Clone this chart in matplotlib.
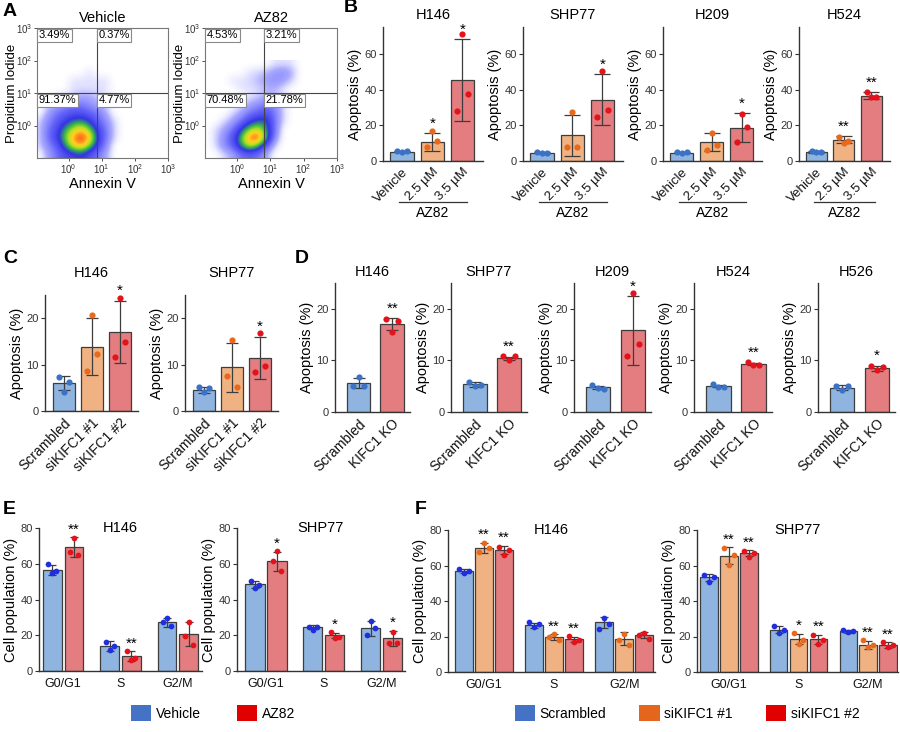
import numpy as np
import matplotlib

matplotlib.use("Agg")
import matplotlib.pyplot as plt
import matplotlib.transforms as mtransforms
from matplotlib.colors import LinearSegmentedColormap
from matplotlib.patches import Patch

plt.rcParams["font.family"] = ["Liberation Sans", "DejaVu Sans"]
plt.rcParams["mathtext.fontset"] = "custom"
plt.rcParams["mathtext.rm"] = "Liberation Sans"
plt.rcParams["mathtext.it"] = "Liberation Sans:italic"
plt.rcParams["mathtext.bf"] = "Liberation Sans:bold"

W, H = 900, 732

# ---------------- A: annexin V / PI dot plots (density, log10 grid) ----------------
flow_titles = ["Vehicle", "AZ82"]
flow_pct = [
    ["3.49%", "0.37%", "91.37%", "4.77%"],
    ["4.53%", "3.21%", "70.48%", "21.78%"],
]
# rows: log10 PI 1.875 -> -0.875, cols: log10 annexin -0.875 -> 1.875 (0.25 steps)
vehicle_density = [
    [0, 0, 0, 0, 0, 0, 0, 0, 0, 0, 0, 0],
    [0, 0, 0, 0, 0, 0, 0.4, 0, 0, 0, 0, 0],
    [0, 0, 0, 0, 0.4, 0.4, 0.4, 0.4, 0.4, 0, 0, 0],
    [0, 0, 0, 0, 0.4, 0.4, 0.4, 0.4, 0.4, 0, 0, 0],
    [0, 0, 0.4, 0.5, 0.6, 1, 1, 0.6, 0.4, 0, 0, 0],
    [0, 0.5, 1, 1.5, 2, 2, 1.5, 1, 0.5, 0, 0, 0],
    [0, 1, 2, 2.5, 3, 3, 2.5, 2, 1, 0, 0, 0],
    [0.5, 1.5, 2.5, 3.5, 4.5, 5, 4, 2.5, 1.5, 0.5, 0, 0],
    [0.5, 2, 3, 5, 6.5, 7.5, 6, 3.5, 2, 0.5, 0, 0],
    [0.5, 2, 3.5, 5.5, 8, 9.5, 8, 4, 2, 0.5, 0, 0],
    [0.5, 1.5, 2.5, 4.5, 7, 8, 6, 3.5, 1.5, 0, 0, 0],
    [0, 1, 2, 3, 3.5, 4, 3, 2, 1, 0, 0, 0],
]
az82_density = [
    [0, 0, 0, 0, 0, 0, 0, 0, 0.4, 0.4, 0.4, 0],
    [0, 0, 0, 0, 0, 0.4, 0.5, 0.8, 1.2, 1.5, 1, 0],
    [0, 0, 0, 0.4, 0.4, 0.5, 0.8, 1.2, 1.5, 1.2, 0.6, 0],
    [0, 0, 0, 0, 0.4, 0.4, 0.5, 0.8, 0.8, 0.4, 0, 0],
    [0, 0, 0, 0, 0, 0.4, 0.5, 1, 1, 0.4, 0, 0],
    [0, 0, 0, 0, 0.5, 1, 1.5, 2, 1.5, 0.5, 0, 0],
    [0, 0, 0, 0.5, 1, 2, 2.5, 3, 2, 0.5, 0, 0],
    [0, 0, 0.5, 1, 2, 3.5, 4.5, 4.5, 2, 0.5, 0, 0],
    [0, 0.5, 1, 2, 4, 6, 7, 5, 2, 0, 0, 0],
    [0, 0.5, 1.5, 3, 5.5, 8.5, 9.5, 5.5, 1.5, 0, 0, 0],
    [0, 0.5, 1.5, 2.5, 5, 7, 5.5, 2.5, 0.5, 0, 0, 0],
    [0, 0, 0.5, 1, 2, 2.5, 2, 1, 0, 0, 0, 0],
]
flow_gate_x = [0.85, 0.82]   # log10 annexin gate
flow_gate_y = [1.0, 1.0]     # log10 PI gate

# ---------------- B: AZ82 dose, apoptosis (%) ----------------
b_lines = ["H146", "SHP77", "H209", "H524"]
b_groups = ["Vehicle", "2.5 µM", "3.5 µM"]
b_mean = [[5.3, 10.4, 45.4], [4.6, 14.4, 34.4], [4.6, 10.4, 18.6], [5.2, 12.0, 36.6]]
b_sd = [[0.4, 5.0, 22.8], [0.2, 11.6, 14.2], [0.2, 5.0, 8.0], [0.5, 1.8, 1.9]]
b_points = [
    [[5.8, 5.0, 5.6], [8.0, 16.6, 11.4], [28.0, 71.0, 37.6]],
    [[4.8, 4.6, 4.6], [7.6, 27.6, 7.6], [24.4, 50.6, 28.8]],
    [[4.8, 4.6, 4.8], [6.0, 15.6, 9.0], [10.4, 26.4, 19.0]],
    [[5.8, 5.0, 5.0], [13.6, 10.0, 11.0], [38.4, 35.6, 36.0]],
]
b_stars = [["", "*", "*"], ["", "", "*"], ["", "", "*"], ["", "**", "**"]]

# ---------------- C: siRNA, apoptosis (%) ----------------
c_lines = ["H146", "SHP77"]
c_groups = ["Scrambled", "siKIFC1 #1", "siKIFC1 #2"]
c_mean = [[6.0, 13.9, 17.0], [4.5, 9.4, 11.5]]
c_sd = [[1.5, 6.2, 6.7], [0.6, 5.3, 4.5]]
c_points = [
    [[7.3, 4.2, 6.2], [8.6, 20.7, 12.3], [11.7, 24.4, 14.9]],
    [[5.2, 4.0, 4.9], [7.6, 15.3, 5.1], [8.3, 16.8, 9.7]],
]
c_stars = [["", "", "*"], ["", "", "*"]]

# ---------------- D: KIFC1 KO, apoptosis (%) ----------------
d_lines = ["H146", "SHP77", "H209", "H524", "H526"]
d_groups = ["Scrambled", "KIFC1 KO"]
d_mean = [[5.6, 17.0], [5.4, 10.4], [4.8, 15.8], [5.1, 9.3], [4.7, 8.5]]
d_sd = [[1.0, 1.2], [0.5, 0.3], [0.3, 6.6], [0.2, 0.2], [0.5, 0.5]]
d_points = [
    [[5.0, 6.7, 5.0], [18.0, 15.6, 17.6]],
    [[5.9, 5.1, 5.3], [10.8, 10.1, 10.8]],
    [[5.3, 4.6, 4.5], [10.8, 23.1, 13.2]],
    [[5.5, 4.9, 4.9], [9.6, 9.2, 9.2]],
    [[5.1, 4.3, 5.1], [9.0, 8.2, 8.8]],
]
d_stars = [["", "**"], ["", "**"], ["", "*"], ["", "**"], ["", "*"]]

# ---------------- E / F: cell cycle (%) ----------------
phases = ["G0/G1", "S", "G2/M"]
e_series = ["Vehicle", "AZ82"]
e_lines = ["H146", "SHP77"]
e_mean = [
    [[56.6, 14.1, 27.2], [69.3, 8.4, 20.6]],
    [[48.5, 24.4, 23.8], [61.3, 20.0, 18.2]],
]
e_sd = [
    [[2.8, 2.7, 2.5], [5.6, 2.6, 6.6]],
    [[1.9, 1.1, 4.2], [5.4, 1.4, 4.2]],
]
e_points = [
    [[[60.0, 54.7, 55.7], [16.3, 12.0, 14.0], [27.2, 29.4, 25.0]],
     [[66.3, 74.4, 65.0], [11.0, 6.0, 7.0], [19.5, 27.5, 14.4]]],
    [[[50.6, 46.3, 48.2], [24.4, 22.9, 24.4], [20.0, 28.1, 23.8]],
     [[61.3, 66.9, 56.0], [21.6, 18.7, 19.1], [15.7, 21.9, 15.7]]],
]
e_stars = [
    [["", "", ""], ["**", "**", ""]],
    [["", "", ""], ["*", "*", "*"]],
]

f_series = ["Scrambled", "siKIFC1 #1", "siKIFC1 #2"]
f_lines = ["H146", "SHP77"]
f_mean = [
    [[57.0, 26.3, 27.9], [70.0, 19.8, 18.8], [68.7, 18.4, 20.7]],
    [[53.3, 23.9, 23.0], [65.5, 18.8, 15.4], [66.8, 18.4, 15.1]],
]
f_sd = [
    [[1.0, 1.4, 3.1], [2.8, 1.6, 3.6], [2.3, 1.6, 1.7]],
    [[2.0, 2.1, 0.9], [4.7, 2.8, 2.3], [1.7, 2.5, 1.6]],
]
f_points = [
    [[[58.3, 56.0, 57.0], [27.9, 25.4, 26.9], [24.5, 30.7, 27.3]],
     [[67.8, 72.8, 70.0], [19.8, 21.3, 17.9], [17.9, 21.6, 15.1]],
     [[70.2, 65.9, 68.7], [20.1, 16.9, 18.3], [20.7, 22.0, 18.8]]],
    [[[54.6, 50.8, 53.6], [26.0, 22.2, 23.5], [23.5, 22.4, 23.1]],
     [[69.6, 60.2, 65.9], [22.0, 16.0, 17.9], [17.9, 14.1, 15.4]],
     [[68.1, 64.9, 66.8], [20.7, 15.6, 17.9], [16.9, 14.1, 15.1]]],
]
f_stars = [
    [["", "", ""], ["**", "**", ""], ["**", "**", ""]],
    [["", "", ""], ["**", "*", "**"], ["**", "**", "**"]],
]

# ---------------- styles ----------------
EDGE = "#3d3d3d"
AXIS = "#333333"
FILL = {"blue": "#8fb4df", "orange": "#f0b283", "red": "#e47d7f"}
DOT = {"blue": "#3b72c6", "orange": "#e8681c", "red": "#e3121b"}
DOT_EF = {"blue": "#1f2fe0", "orange": "#e8681c", "red": "#e3121b"}
LEGEND = {"blue": "#4472c4", "orange": "#e4661c", "red": "#e00000"}

flow_cmap = LinearSegmentedColormap.from_list(
    "flow",
    [(0, "white"), (0.03, "#ececff"), (0.1, "#a8a8ff"), (0.25, "#6464fa"), (0.42, "#3434e6"),
     (0.55, "#30b050"), (0.68, "#b8e020"), (0.78, "#ffd020"), (0.88, "#ff7a1e"), (1.0, "#e8141e")],
)

fig = plt.figure(figsize=(W / 100, H / 100), dpi=100)


def px_axes(left, top, right, bottom):
    return fig.add_axes([left / W, 1 - bottom / H, (right - left) / W, (bottom - top) / H])


def panel_letter(x, y, s):
    fig.text(x / W, 1 - y / H, s, fontsize=14, fontweight="bold", ha="left", va="center")


def style_bar_axes(ax, ylim, yticks, ylabel):
    ax.set_ylim(*ylim)
    ax.set_yticks(yticks)
    for side in ("top", "right"):
        ax.spines[side].set_visible(False)
    for side in ("left", "bottom"):
        ax.spines[side].set_color(AXIS)
        ax.spines[side].set_linewidth(1.0)
    ax.tick_params(axis="y", length=3, width=0.8, colors=AXIS, labelsize=8, pad=1.5)
    ax.tick_params(axis="x", length=0, colors="#111111")
    ax.set_ylabel(ylabel, fontsize=10.5, labelpad=2)


def draw_bars(ax, xs, means, sds, pts, fills, dots, width, cap, stars, jitter, star_pad, dot_size=20):
    ax.bar(xs, means, width, color=fills, edgecolor=EDGE, linewidth=0.9, zorder=1)
    ax.errorbar(xs, means, yerr=sds, fmt="none", ecolor=EDGE, elinewidth=0.9,
                capsize=cap, capthick=0.9, zorder=2)
    for x, p, c in zip(xs, pts, dots):
        ax.scatter(np.full(len(p), x) + np.array(jitter), p, s=dot_size, color=c,
                   linewidths=0, zorder=3, clip_on=False)
    for x, m, s, st in zip(xs, means, sds, stars):
        if st:
            ax.annotate(st, (x, m + s), xytext=(0, star_pad), textcoords="offset points",
                        ha="center", va="bottom", fontsize=11, annotation_clip=False)


# ---------------- panel A ----------------
flow_boxes = [(37, 28, 168, 158), (205, 28, 337, 158)]
flow_label_right = [18, 186]   # right edge of the rotated y label, px
for i, (dens, box) in enumerate(zip([vehicle_density, az82_density], flow_boxes)):
    ax = px_axes(*box)
    ax.imshow(np.array(dens), extent=(-1, 2, -1, 2), origin="upper", cmap=flow_cmap,
              vmin=0, vmax=9.5, interpolation="bicubic", aspect="auto", zorder=1)
    ax.set_xlim(-0.95, 3)
    ax.set_ylim(-1, 3)
    ax.axvline(flow_gate_x[i], color="#444444", lw=0.8, zorder=2)
    ax.axhline(flow_gate_y[i], color="#444444", lw=0.8, zorder=2)
    ticks = [0, 1, 2, 3]
    labels = [rf"$\mathregular{{10^{{{t}}}}}$" for t in ticks]
    ax.set_xticks(ticks, labels)
    ax.set_yticks(ticks, labels)
    ax.tick_params(length=2, width=0.6, labelsize=7, pad=1, colors="#333333")
    for sp in ax.spines.values():
        sp.set_color("#777777")
        sp.set_linewidth(0.8)
    ax.set_title(flow_titles[i], fontsize=10.5, pad=4)
    ax.set_xlabel("Annexin V", fontsize=10.5, labelpad=1)
    ax.set_ylabel("Propidium Iodide", fontsize=9.5)
    ax.yaxis.set_label_coords((flow_label_right[i] - box[0]) / (box[2] - box[0]), 0.5)
    bbox = dict(boxstyle="square,pad=0.15", fc="white", ec="#8a8a8a", lw=0.8)
    gx, gy = flow_gate_x[i], flow_gate_y[i]
    spots = [(-0.9, 2.93), (gx + 0.05, 2.93), (-0.9, gy - 0.07), (gx + 0.05, gy - 0.07)]
    for (tx, ty), txt in zip(spots, flow_pct[i]):
        ax.text(tx, ty, txt, fontsize=8, ha="left", va="top", bbox=bbox, zorder=4)
panel_letter(3, 11, "A")

# ---------------- panel B ----------------
b_fills = [FILL["blue"], FILL["orange"], FILL["red"]]
b_dots = [DOT["blue"], DOT["orange"], DOT["red"]]
b_boxes = [(383, 27, 483, 161), (523, 27, 623, 161), (663, 27, 762, 161), (799, 27, 890, 161)]
for i, box in enumerate(b_boxes):
    ax = px_axes(*box)
    xs = np.arange(len(b_groups))
    draw_bars(ax, xs, b_mean[i], b_sd[i], b_points[i], b_fills, b_dots, 0.77, 5.5,
              b_stars[i], (-0.17, 0.0, 0.17), 2)
    style_bar_axes(ax, (0, 75), [0, 20, 40, 60], "Apoptosis (%)")
    ax.set_xlim(-0.63, 2.68)
    ax.set_xticks(xs, b_groups, rotation=45, ha="right", rotation_mode="anchor", fontsize=9.5)
    ax.set_title(b_lines[i], fontsize=10.5, pad=6)
    trans = mtransforms.blended_transform_factory(ax.transData, ax.transAxes)
    ax.plot([-0.1, 2.15], [-0.305, -0.305], transform=trans, color=AXIS, lw=0.9, clip_on=False)
    ax.text(1.03, -0.39, "AZ82", transform=trans, ha="center", va="center", fontsize=10)
panel_letter(344, 8, "B")

# ---------------- panel C ----------------
c_boxes = [(45, 295, 138, 411), (185, 295, 278, 411)]
for i, box in enumerate(c_boxes):
    ax = px_axes(*box)
    xs = np.arange(len(c_groups))
    draw_bars(ax, xs, c_mean[i], c_sd[i], c_points[i], b_fills, b_dots, 0.76, 4.5,
              c_stars[i], (-0.17, 0.0, 0.17), 2)
    style_bar_axes(ax, (0, 25), [0, 10, 20], "Apoptosis (%)")
    ax.set_xlim(-0.67, 2.64)
    ax.set_xticks(xs, c_groups, rotation=45, ha="right", rotation_mode="anchor", fontsize=10)
    ax.set_title(c_lines[i], fontsize=10.5, pad=13)
panel_letter(3, 258, "C")

# ---------------- panel D ----------------
d_fills = [FILL["blue"], FILL["red"]]
d_dots = [DOT["blue"], DOT["red"]]
d_boxes = [(335, 283, 410, 412), (451, 283, 527, 412), (574, 283, 651, 412),
           (694, 283, 772, 412), (818, 283, 895, 412)]
for i, box in enumerate(d_boxes):
    ax = px_axes(*box)
    xs = np.arange(len(d_groups))
    draw_bars(ax, xs, d_mean[i], d_sd[i], d_points[i], d_fills, d_dots, 0.7, 4.0,
              d_stars[i], (-0.17, 0.0, 0.17), 2)
    style_bar_axes(ax, (0, 25), [0, 10, 20], "Apoptosis (%)")
    ax.set_xlim(-0.7, 1.53)
    ax.set_xticks(xs, d_groups, rotation=45, ha="right", rotation_mode="anchor", fontsize=10)
    ax.set_title(d_lines[i], fontsize=10.5, pad=5)
panel_letter(295, 258, "D")

# ---------------- panels E and F ----------------
def cell_cycle(box, xlim, series_keys, offsets, width, means, sds, pts, stars, title):
    ax = px_axes(*box)
    xs = np.arange(len(phases))
    for k, key in enumerate(series_keys):
        draw_bars(ax, xs + offsets[k], means[k], sds[k], pts[k],
                  [FILL[key]] * len(xs), [DOT_EF[key]] * len(xs), width, 3.2,
                  stars[k], (-0.07, 0.0, 0.07), 0.5, dot_size=17)
    style_bar_axes(ax, (0, 80), [0, 20, 40, 60, 80], "Cell population (%)")
    ax.set_xlim(*xlim)
    ax.set_xticks(xs, phases, fontsize=9)
    ax.tick_params(axis="x", pad=5)
    ax.text(0.5, 1.0, title, transform=ax.transAxes, ha="center", va="center", fontsize=10.5)
    return ax


e_boxes = [(39, 528, 202, 671), (237, 528, 405, 671)]
e_xlims = [(-0.42, 2.42), (-0.5, 2.4)]
for i in range(2):
    cell_cycle(e_boxes[i], e_xlims[i], ["blue", "red"], (-0.19, 0.19), 0.33,
               e_mean[i], e_sd[i], e_points[i], e_stars[i], e_lines[i])
panel_letter(3, 510, "E")

f_boxes = [(448, 530, 655, 672), (697, 530, 898, 672)]
f_xlims = [(-0.51, 2.44), (-0.46, 2.43)]
for i in range(2):
    cell_cycle(f_boxes[i], f_xlims[i], ["blue", "orange", "red"], (-0.285, 0.0, 0.285), 0.25,
               f_mean[i], f_sd[i], f_points[i], f_stars[i], f_lines[i])
panel_letter(415, 510, "F")

# ---------------- legends ----------------
legend_font = ["Liberation Sans Narrow", "Liberation Sans", "DejaVu Sans"]
left_handles = [Patch(facecolor=LEGEND["blue"]), Patch(facecolor=LEGEND["red"])]
fig.legend(left_handles, e_series, loc="center left", bbox_to_anchor=(118 / W, 1 - 713 / H),
           ncol=2, frameon=False, handlelength=1.45, handleheight=1.45, handletextpad=0.35,
           columnspacing=2.6, prop={"family": legend_font, "size": 10})
right_handles = [Patch(facecolor=LEGEND["blue"]), Patch(facecolor=LEGEND["orange"]),
                 Patch(facecolor=LEGEND["red"])]
fig.legend(right_handles, f_series, loc="center left", bbox_to_anchor=(502 / W, 1 - 713 / H),
           ncol=3, frameon=False, handlelength=1.45, handleheight=1.45, handletextpad=0.35,
           columnspacing=2.4, prop={"family": legend_font, "size": 10})

fig.savefig("out.png", dpi=100, facecolor="white")
